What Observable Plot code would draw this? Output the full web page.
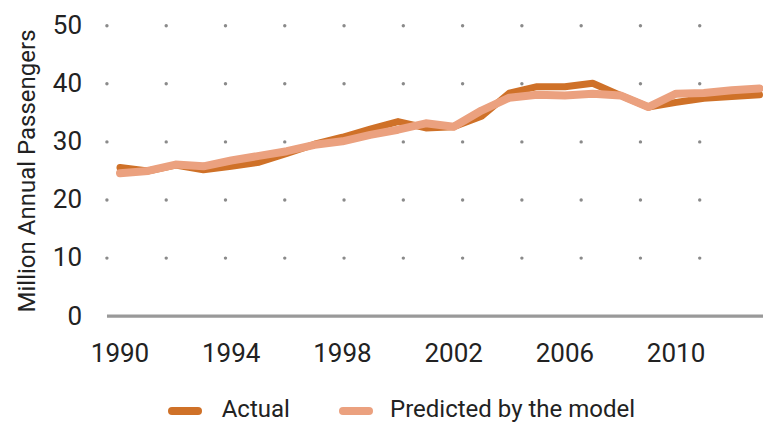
<!DOCTYPE html>
<html>
<head>
<meta charset="utf-8">
<script src="https://cdn.jsdelivr.net/npm/d3@7"></script>
<script src="https://cdn.jsdelivr.net/npm/@observablehq/plot@0.6"></script>
<style>
  html, body { margin: 0; padding: 0; background: #fff; }
  body { width: 763px; height: 423px; overflow: hidden; font-family: Roboto, sans-serif; }
  #legend { position: relative; height: 48px; color: #222; font-size: 24px; }
  #legend .sw { position: absolute; height: 8px; width: 34px; border-radius: 4px; top: 32px; }
  #legend .lb { position: absolute; line-height: 24px; top: 21.6px; white-space: nowrap; }
</style>
</head>
<body>
<div id="chart"></div>
<div id="legend"></div>
<script>
const years = [1990, 1991, 1992, 1993, 1994, 1995, 1996, 1997, 1998, 1999, 2000, 2001,
               2002, 2003, 2004, 2005, 2006, 2007, 2008, 2009, 2010, 2011, 2012, 2013];
const actual = [25.6, 25.0, 26.0, 25.2, 25.8, 26.5, 28.0, 29.6, 30.8, 32.2, 33.5, 32.4,
                32.6, 34.4, 38.4, 39.5, 39.5, 40.1, 38.0, 36.0, 36.8, 37.5, 37.8, 38.1];
const predicted = [24.6, 25.0, 26.1, 25.8, 26.8, 27.6, 28.4, 29.5, 30.1, 31.2, 32.1, 33.2,
                   32.6, 35.4, 37.6, 38.1, 38.0, 38.3, 38.0, 36.0, 38.3, 38.4, 38.9, 39.2];
const seriesNames = ["Actual", "Predicted by the model"];
const seriesColors = ["#CF7128", "#EBA17F"];
const xTicks = [1990, 1994, 1998, 2002, 2006, 2010];
const yTicks = [0, 10, 20, 30, 40, 50];
const yLabel = "Million Annual Passengers";

const actualData = years.map((year, i) => ({year, value: actual[i], series: seriesNames[0]}));
const predictedData = years.map((year, i) => ({year, value: predicted[i], series: seriesNames[1]}));

// decorative dotted grid (in data units)
const gridX = d3.range(11).map(i => 1989.53 + i * 2.132);
const gridY = [10, 20, 30, 40, 50];
const grid = gridX.flatMap(x => gridY.map(y => ({x, y})));

const chart = Plot.plot({
  width: 763,
  height: 375,
  marginLeft: 119.5,
  marginRight: 4,
  marginTop: 25.2,
  marginBottom: 59.3,
  style: {fontFamily: "Roboto, sans-serif", fontSize: "26px", color: "#222", background: "#fff"},
  x: {domain: [1990, 2013], ticks: xTicks, tickFormat: "d", tickSize: 0, tickPadding: 27, label: null},
  y: {domain: [0, 50], ticks: yTicks, tickSize: 0, tickPadding: 38, label: null},
  marks: [
    Plot.dot(grid, {x: "x", y: "y", r: 1.7, fill: "#8a8a8a", stroke: null}),
    Plot.ruleY([0], {x1: 1989.55, x2: 2013.2, stroke: "#999", strokeWidth: 3.3}),
    Plot.line(actualData, {x: "year", y: "value", stroke: seriesColors[0], strokeWidth: 7, strokeLinejoin: "round"}),
    Plot.line(predictedData, {x: "year", y: "value", stroke: seriesColors[1], strokeWidth: 8,
      strokeLinecap: "round", strokeLinejoin: "round"}),
    Plot.text([yLabel], {text: d => d, frameAnchor: "left", rotate: -90, dx: -85, dy: 0,
      textAnchor: "middle", lineAnchor: "bottom", fontSize: 24, fill: "#222"})
  ]
});
document.getElementById("chart").appendChild(chart);

// legend
const legend = document.getElementById("legend");
const swLeft = [168, 339];
const lbLeft = [221.7, 390];
seriesNames.forEach((name, i) => {
  const sw = document.createElement("div");
  sw.className = "sw";
  sw.style.left = swLeft[i] + "px";
  sw.style.background = seriesColors[i];
  legend.appendChild(sw);
  const lb = document.createElement("div");
  lb.className = "lb";
  lb.style.left = lbLeft[i] + "px";
  lb.textContent = name;
  legend.appendChild(lb);
});
</script>
</body>
</html>
